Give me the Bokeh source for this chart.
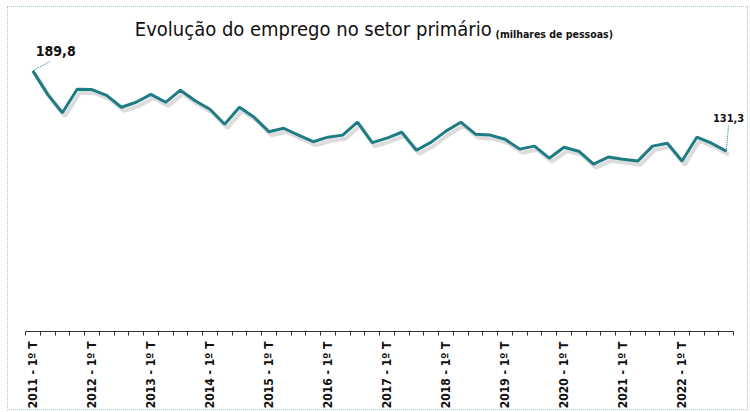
import numpy as np
from bokeh.plotting import figure
from bokeh.models import Range1d, FixedTicker, Label, ColumnDataSource
from bokeh.transform import dodge
from bokeh.embed import file_html
from bokeh.resources import INLINE

years = list(range(2011, 2023))
quarters = [f"{y} - {q}º T" for y in years for q in range(1, 5)]
employment = [189.8, 172.7, 159.3, 176.4, 176.2, 172.0, 163.3, 166.9, 172.7, 166.9,
              175.7, 168.0, 161.8, 150.9, 163.3, 156.0, 145.5, 148.0, 143.0, 138.2,
              141.5, 143.0, 152.4, 137.5, 140.8, 145.1, 132.0, 137.9, 145.9, 152.4,
              143.7, 143.0, 140.0, 132.8, 135.0, 126.2, 134.2, 131.3, 121.9, 127.0,
              125.5, 124.1, 135.0, 137.1, 124.1, 141.5, 137.1, 131.3]
title_main = "Evolução do emprego no setor primário"
title_unit = "(milhares de pessoas)"

n = len(quarters)
xs = np.arange(n) + 0.5
src = ColumnDataSource(dict(x=xs, y=employment))

FONT = "DejaVu Sans Condensed"

p = figure(width=741, height=404, output_backend="svg", toolbar_location=None,
           x_range=Range1d(0, 48.8), y_range=Range1d(0, 235.2),
           min_border_left=17, min_border_right=4, min_border_top=1, min_border_bottom=79)
p.styles = {"border": "1px dotted #a6c6d6", "margin-left": "7px", "margin-top": "6px"}
p.grid.visible = False
p.yaxis.visible = False
p.outline_line_color = None

TEAL = "#1d7c84"

# shadow
p.line(x=dodge("x", 0.18), y=dodge("y", -2.6), source=src, line_color="#9a9a9a",
       line_alpha=0.35, line_width=4)
p.line(x="x", y="y", source=src, line_color=TEAL, line_width=3)

# leader lines
p.segment(x0=[xs[0], xs[-1]], y0=[employment[0], employment[-1]],
          x1=[xs[0] + 1.15, xs[-1] + 0.15], y1=[employment[0] + 6.8, employment[-1] + 19],
          line_color=TEAL, line_width=1, line_dash="1 1")

lab1 = Label(x=xs[0] + 0.2, y=employment[0] + 14.5, text=f"{employment[0]:.1f}".replace(".", ","),
             text_font=FONT, text_font_size="14px", text_font_style="bold",
             text_color="#111111", text_align="left", text_baseline="alphabetic")
lab2 = Label(x=xs[-1] + 0.15, y=employment[-1] + 24, text=f"{employment[-1]:.1f}".replace(".", ","),
             text_font=FONT, text_font_size="11px", text_font_style="bold",
             text_color="#111111", text_align="center", text_baseline="alphabetic")
p.add_layout(lab1)
p.add_layout(lab2)

t1 = Label(x=31.6, y=220.5, text=title_main, text_font=FONT,
           text_font_size="20px", text_color="#111111", text_align="right", text_baseline="alphabetic")
t2 = Label(x=31.86, y=216.5, text=title_unit, text_font=FONT,
           text_font_size="10.5px", text_font_style="bold", text_color="#111111",
           text_align="left", text_baseline="alphabetic")
p.add_layout(t1)
p.add_layout(t2)

ax = p.xaxis[0]
ax.bounds = (0, n)
major = [float(xs[i]) for i in range(0, n, 4)]
ax.ticker = FixedTicker(ticks=major, minor_ticks=list(range(0, n + 1)))
ax.major_label_overrides = {float(xs[i]): quarters[i] for i in range(0, n, 4)}
ax.major_label_orientation = np.pi / 2
ax.major_tick_out = 0
ax.major_tick_in = 0
ax.minor_tick_out = 4
ax.minor_tick_in = 0
ax.axis_line_color = "#333333"
ax.minor_tick_line_color = "#333333"
ax.major_label_text_font = FONT
ax.major_label_text_font_size = "12px"
ax.major_label_text_font_style = "bold"
ax.major_label_text_color = "#111111"
ax.major_label_standoff = 6

open("out.html", "w").write(file_html(p, INLINE))
